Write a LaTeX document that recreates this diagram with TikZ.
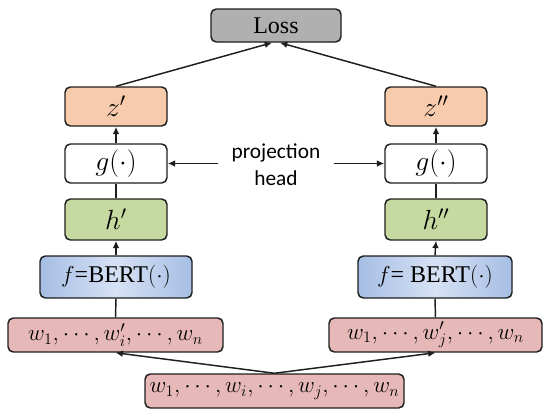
\documentclass[tikz,border=0pt]{standalone}
\usepackage{fontspec}
\setmainfont{Liberation Serif}
\newfontfamily\labelfont{Carlito}
\usetikzlibrary{arrows.meta}
\definecolor{lossgray}{RGB}{176,176,176}
\definecolor{peach}{RGB}{248,203,173}
\definecolor{leaf}{RGB}{197,217,160}
\definecolor{rose}{RGB}{230,185,184}
\definecolor{blueedge}{RGB}{166,190,228}
\definecolor{bluemid}{RGB}{214,225,244}
\definecolor{edge}{RGB}{30,30,30}
\begin{document}
\begin{tikzpicture}[x=0.75pt,y=-0.75pt,
  box/.style={draw=edge, line width=1.1pt, rounded corners=4pt, inner sep=0pt, align=center},
  mathtxt/.style={font=\fontsize{21}{24}\selectfont},
  berttxt/.style={font=\fontsize{18}{21}\selectfont},
  wtxt/.style={font=\fontsize{17.5}{20}\selectfont},
  arr/.style={-{Latex[length=5.5pt,width=5pt]}, line width=1.1pt, draw=edge},
  ln/.style={line width=1.1pt, draw=edge}]
\useasboundingbox (0,0) rectangle (544,412);

\node[box, fill=lossgray, minimum width=97.5pt, minimum height=24.75pt, font=\fontsize{18}{21}\selectfont] (loss) at (276,25.5) {Loss};

\node[box, fill=peach, minimum width=76.5pt, minimum height=29.25pt, mathtxt] (zl) at (116,106.5) {$z'$};
\node[box, fill=white, minimum width=76.5pt, minimum height=29.25pt, mathtxt] (gl) at (116,163.5) {$g(\cdot)$};
\node[box, fill=leaf, minimum width=76.5pt, minimum height=30.75pt, mathtxt] (hl) at (116,219.5) {$h'$};

\node[box, fill=peach, minimum width=76.5pt, minimum height=29.25pt, mathtxt] (zr) at (436,106.5) {$z''$};
\node[box, fill=white, minimum width=76.5pt, minimum height=29.25pt, mathtxt] (gr) at (436,163.5) {$g(\cdot)$};
\node[box, fill=leaf, minimum width=76.5pt, minimum height=30.75pt, mathtxt] (hr) at (436,219.5) {$h''$};

\node[box, left color=blueedge, right color=blueedge, middle color=bluemid, minimum width=114pt, minimum height=31.5pt, berttxt] (bl) at (116,277) {$f$=BERT$(\cdot)$};
\node[box, left color=blueedge, right color=blueedge, middle color=bluemid, minimum width=115.5pt, minimum height=31.5pt, berttxt] (br) at (435,277) {$f$= BERT$(\cdot)$};

\node[box, fill=rose, minimum width=161.25pt, minimum height=25.5pt, wtxt] (wl) at (115.5,335) {$w_1,\cdots,w_i',\cdots,w_n$};
\node[box, fill=rose, minimum width=159.75pt, minimum height=25.5pt, wtxt] (wr) at (435.5,335) {$w_1,\cdots,w_j',\cdots,w_n$};
\node[box, fill=rose, minimum width=194.25pt, minimum height=25.5pt, wtxt] (wb) at (274.5,391) {$w_1,\cdots,w_i,\cdots,w_j,\cdots,w_n$};

\node[align=center, inner xsep=10pt, inner ysep=0pt, font=\labelfont\fontsize{16}{20}\selectfont] (ph) at (276,165) {projection\\head};

\coordinate (lossl) at ([xshift=-3pt]loss.south);
\coordinate (lossr) at ([xshift=3pt]loss.south);

\draw[arr] (wb.north) -- (wl.south);
\draw[arr] (wb.north) -- (wr.south);
\draw[ln] (wl.north) -- (bl.south);
\draw[ln] (wr.north) -- (br.south);
\draw[arr] (bl.north) -- (hl.south);
\draw[arr] (br.north) -- (hr.south);
\draw[ln] (hl.north) -- (gl.south);
\draw[ln] (hr.north) -- (gr.south);
\draw[arr] (gl.north) -- (zl.south);
\draw[arr] (gr.north) -- (zr.south);
\draw[arr] (zl.north) -- (lossl);
\draw[arr] (zr.north) -- (lossr);
\draw[arr] (ph.west |- gl.east) -- (gl.east);
\draw[arr] (ph.east |- gr.west) -- (gr.west);
\end{tikzpicture}
\end{document}
